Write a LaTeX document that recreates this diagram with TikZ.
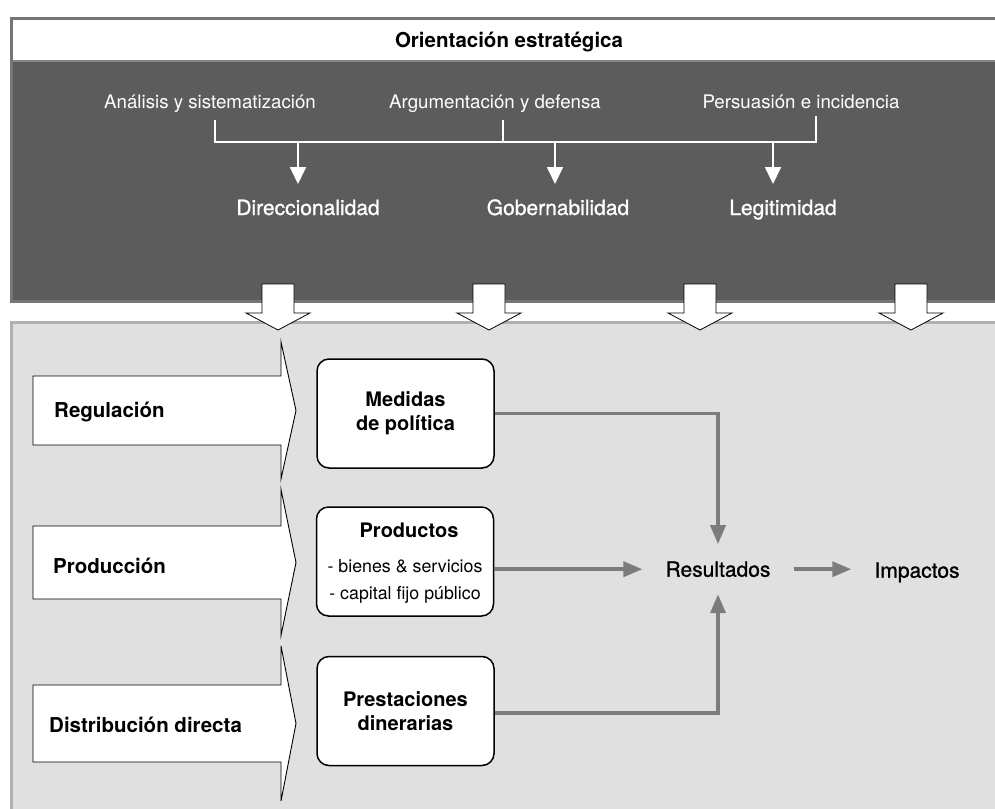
\documentclass[tikz,border=0pt]{standalone}
\usepackage{fontspec}
\setmainfont{TeX Gyre Heros}
\newfontfamily\mediumfont[FakeBold=1]{TeX Gyre Heros}
\usetikzlibrary{arrows.meta}

\definecolor{panelDark}{HTML}{5C5C5C}
\definecolor{edgeDark}{HTML}{767676}
\definecolor{sepGray}{HTML}{868686}
\definecolor{panelLight}{HTML}{E0E0E0}
\definecolor{edgeLight}{HTML}{B0B0B0}
\definecolor{connGray}{HTML}{7C7C7C}

% chevron-shaped banner: centre y, half height of body, half height of head
\newcommand{\chevshape}[3]{%
  \draw[fill=white, line width=0.9pt]
    (33,#1-#2) -- (281,#1-#2) -- (281,#1-#3) -- (296,#1)
    -- (281,#1+#3) -- (281,#1+#2) -- (33,#1+#2) -- cycle;}

\begin{document}
\begin{tikzpicture}[x=1pt, y=-1pt,
  titletxt/.style={anchor=base, inner sep=0, font=\fontsize{20.5}{24}\selectfont\bfseries},
  toptxt/.style={anchor=base, inner sep=0, text=white, font=\fontsize{18.7}{22}\selectfont},
  dirtxt/.style={anchor=base, inner sep=0, text=white, font=\mediumfont\fontsize{21}{25}\selectfont},
  chevtxt/.style={anchor=base west, inner sep=0, font=\fontsize{20.5}{24}\selectfont\bfseries},
  roundbox/.style={draw=black, fill=white, line width=1.5pt, rounded corners=12pt,
    minimum width=177pt, minimum height=109pt, align=center, inner sep=0,
    font=\fontsize{20}{24}\selectfont\bfseries},
  listtxt/.style={anchor=base, inner sep=0, font=\fontsize{17.8}{22}\selectfont},
  stagetxt/.style={anchor=base, inner xsep=23pt, inner ysep=17pt, font=\mediumfont\fontsize{21}{25}\selectfont},
  wline/.style={draw=white, line width=1.8pt},
  warrow/.style={wline, -{Triangle[length=17pt, width=16pt, fill=white]}},
  conn/.style={draw=connGray, line width=3.5pt, -{Triangle[length=19pt, width=15pt]}},
  blockarrow/.style={draw=black, fill=white, line width=0.8pt}
]
\useasboundingbox (0,0) rectangle (995,808);
\clip (0,0) rectangle (995,808);

% upper panel: title band and dark body
\fill[white] (11.5,18.5) rectangle (1000,61);
\fill[panelDark] (11.5,61) rectangle (1000,301.5);
\draw[draw=sepGray, line width=2.5pt] (11.5,61) -- (1000,61);
\draw[draw=edgeDark, line width=3pt] (1000,18.5) -- (11.5,18.5) -- (11.5,301.5) -- (1000,301.5);

% lower panel
\fill[panelLight] (11.5,322.5) rectangle (1000,820);
\draw[draw=edgeLight, line width=3pt] (1000,322.5) -- (11.5,322.5) -- (11.5,820);

% hollow block arrows between the panels
\foreach \cx in {278,489,700,911}
  \draw[blockarrow] (\cx-16,284) -- (\cx+16,284) -- (\cx+16,313) -- (\cx+32,313)
    -- (\cx,330) -- (\cx-32,313) -- (\cx-16,313) -- cycle;

% upper panel texts
\node[titletxt] (title) at (509,48) {Orientación estratégica};
\node[toptxt] (a1) at (210,108.5) {Análisis y sistematización};
\node[toptxt] (a2) at (495,108.5) {Argumentación y defensa};
\node[toptxt] (a3) at (801,108.5) {Persuasión e incidencia};
\node[dirtxt] (d1) at (308,215) {Direccionalidad};
\node[dirtxt] (d2) at (558,215) {Gobernabilidad};
\node[dirtxt] (d3) at (783,215) {Legitimidad};

% bracket joining the three activities
\coordinate (b1) at (215,142);
\coordinate (b2) at (503,142);
\coordinate (b3) at (816,142);
\coordinate (j1) at (298,142);
\coordinate (j2) at (555,142);
\coordinate (j3) at (773,142);
\coordinate (t1) at (298,184);
\coordinate (t2) at (555,184);
\coordinate (t3) at (773,184);
\draw[wline] ([yshift=-7pt]b1 |- a1.south) -- (b1) -- (b3) -- ([yshift=-7pt]b3 |- a3.south);
\draw[wline] ([yshift=-7pt]b2 |- a2.south) -- (b2);
\draw[warrow] (j1) -- (t1);
\draw[warrow] (j2) -- (t2);
\draw[warrow] (j3) -- (t3);

% instruments
\chevshape{410.5}{34.5}{68.5}
\chevshape{562.5}{36.5}{73}
\chevshape{723.5}{38.5}{77.5}
\node[chevtxt] (reg) at (54,417.3) {Regulación};
\node[chevtxt] (prd) at (53,573.3) {Producción};
\node[chevtxt] (dst) at (49,732.3) {Distribución directa};

% outputs
\node[roundbox] (med) at (405.5,413.5) {Medidas\\de política};
\node[roundbox] (prod) at (405,561.5) {};
\node[titletxt] (prodt) at (409,537.3) {\fontsize{20}{24}\selectfont Productos};
\node[listtxt] (prod1) at (405,572.7) {- bienes \& servicios};
\node[listtxt] (prod2) at (405,599.3) {- capital fijo público};
\node[roundbox] (pres) at (405.5,711) {Prestaciones\\dinerarias};

% results chain
\node[stagetxt] (res) at (718,576.7) {Resultados};
\node[stagetxt] (imp) at (917,577.7) {Impactos};

\draw[conn] (med.east) -| (res.north);
\draw[conn] (prod.east |- res.west) -- (res.west);
\draw[conn] ([yshift=-2pt]pres.east) -| (res.south);
\draw[conn] (res.east) -- (res.east -| imp.west);
\end{tikzpicture}
\end{document}
